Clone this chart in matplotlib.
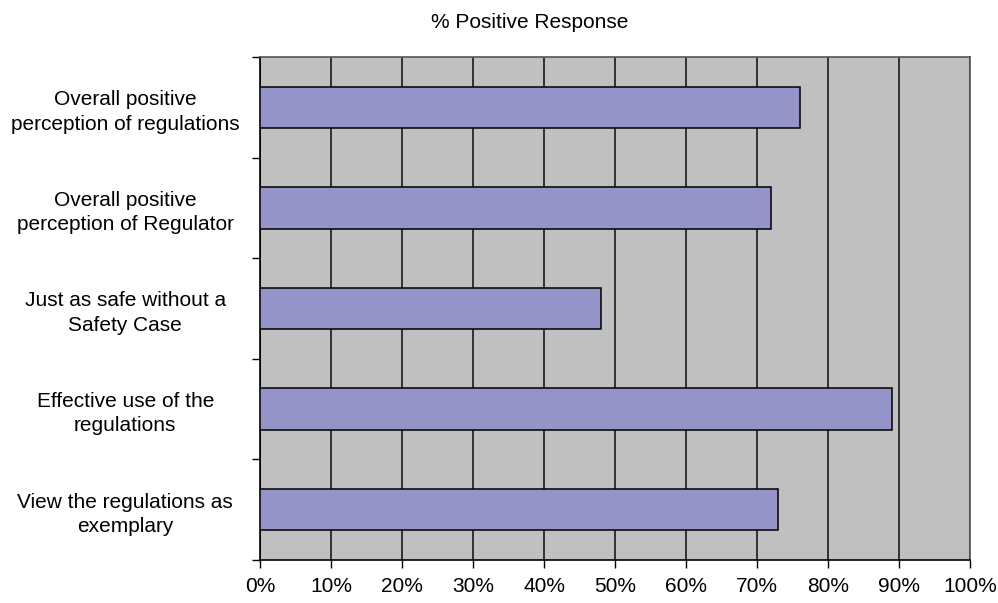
import numpy as np
import matplotlib
matplotlib.use('Agg')
import matplotlib.pyplot as plt
from matplotlib.ticker import FixedLocator, PercentFormatter

categories = [
    'Overall positive\nperception of regulations',
    'Overall positive\nperception of Regulator',
    'Just as safe without a\nSafety Case',
    'Effective use of the\nregulations',
    'View the regulations as\nexemplary',
]
values = [76, 72, 48, 89, 73]
xticks = list(range(0, 101, 10))

plt.rcParams['font.family'] = ['Liberation Sans', 'DejaVu Sans']

fig = plt.figure(figsize=(9.98, 6.03), dpi=100)
ax = fig.add_axes([260 / 998, 1 - 560 / 603, 710 / 998, 503 / 603])
ax.set_facecolor('#c0c0c0')

y = np.arange(len(categories))
ax.barh(y, values, height=0.41, color='#9494c8', edgecolor='black',
        linewidth=1.1, zorder=3)

ax.set_xlim(0, 100)
ax.set_ylim(len(categories) - 0.5, -0.5)
ax.set_xticks(xticks)
ax.xaxis.set_major_formatter(PercentFormatter(decimals=0))
ax.grid(axis='x', color='#1a1a1a', linewidth=1.2, zorder=1)
ax.set_axisbelow(True)

ax.set_yticks(y)
ax.set_yticklabels(categories, ha='center', multialignment='center',
                   linespacing=1.35)
ax.yaxis.set_minor_locator(FixedLocator(np.arange(-0.5, len(categories), 1)))
ax.tick_params(axis='y', which='major', length=0, pad=97, labelsize=15)
ax.tick_params(axis='y', which='minor', length=6, width=1, color='black')
ax.tick_params(axis='x', length=6, width=1, labelsize=15, pad=6)

for s in ax.spines.values():
    s.set_color('#555555')
    s.set_linewidth(1.2)
ax.spines['left'].set_color('black')
ax.spines['bottom'].set_color('black')

fig.text(530 / 998, 1 - 23 / 603, '% Positive Response', ha='center',
         va='center', fontsize=15)

fig.savefig('out.png', dpi=100)
